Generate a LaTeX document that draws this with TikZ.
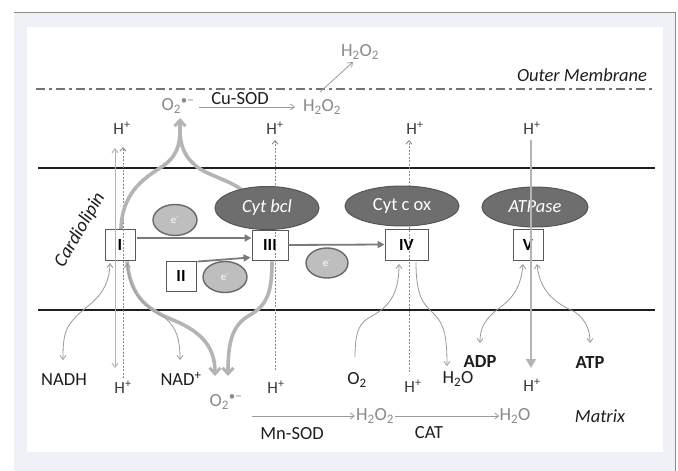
\documentclass[tikz,border=0pt]{standalone}
\usepackage{fontspec}
\setmainfont{Carlito}
\usetikzlibrary{arrows.meta,shapes.geometric}
\definecolor{bgblue}{HTML}{F0F1F7}
\definecolor{framegray}{HTML}{8C8C8C}
\definecolor{darkell}{HTML}{6E6E6E}
\definecolor{darkellb}{HTML}{555555}
\definecolor{eell}{HTML}{BEBEBE}
\definecolor{eellb}{HTML}{686868}
\definecolor{thin}{HTML}{9A9A9A}
\definecolor{bigarr}{HTML}{B4B4B4}
\definecolor{etr}{HTML}{7A7A7A}
\definecolor{ros}{HTML}{8A8A8A}
\definecolor{lbl}{HTML}{1E1E1E}
\definecolor{hpl}{HTML}{3C3C3C}
\tikzset{
  cplx/.style={draw=black!65, line width=0.9pt, minimum height=31pt, inner sep=0pt, font=\fontsize{17}{19}\selectfont\bfseries, text=black},
  bigell/.style={ellipse, draw=darkellb, fill=darkell, line width=1pt, inner sep=0pt, text=white, font=\fontsize{18.5}{20}\selectfont},
  eell/.style={ellipse, draw=eellb, fill=eell, line width=1.4pt, minimum width=44pt, minimum height=31pt, inner sep=0pt, text=white, font=\fontsize{11}{12}\selectfont},
  lab/.style={text=lbl, inner sep=0pt, font=\fontsize{18.5}{20}\selectfont},
  hp/.style={text=hpl, inner sep=0pt, font=\fontsize{17}{19}\selectfont},
  roslab/.style={text=ros, inner sep=0pt, font=\fontsize{18.5}{20}\selectfont},
  thinarr/.style={draw=thin, line width=0.8pt, >={Straight Barb[length=4pt,width=6pt]}},
  bigarrow/.style={draw=bigarr, line width=3.6pt, >={Straight Barb[length=6pt,width=11pt,line width=3pt]}},
  etarr/.style={draw=etr, line width=1.8pt, ->, >={Triangle[length=7pt,width=7pt]}},
  memline/.style={draw=black!88, line width=2.2pt},
  hdot/.style={draw=ros, line width=0.9pt, dash pattern=on 2pt off 1.5pt, ->, >={Straight Barb[length=3.5pt,width=6pt]}},
}
\begin{document}
\begin{tikzpicture}[x=1pt,y=-1pt]
\useasboundingbox (0,0) rectangle (678,471);
\fill[white] (0,0) rectangle (678,471);
% frame
\fill[bgblue] (14,12) rectangle (675,471);
\draw[framegray, line width=1pt] (14,12) -- (675,12) -- (675,471);
\fill[white] (27,27) rectangle (663,452);

% outer membrane
\draw[draw=black!55, line width=2pt, dash pattern=on 9pt off 4pt on 3pt off 4pt] (36,89) -- (653,89);
\node[lab, font=\fontsize{18.5}{20}\selectfont\itshape] (om) at (582,75) {Outer Membrane};
% inner membrane
\draw[memline] (38,168) -- (655,168);
\draw[memline] (38,310) -- (655,310);

\node[lab, font=\fontsize{19}{21}\selectfont\itshape, rotate=60] (card) at (80,230) {Cardiolipin};

% complexes
\node[cplx, minimum width=30pt] (cI) at (120,244.5) {I};
\node[cplx, minimum width=30pt, minimum height=30pt] (cII) at (181,276) {II};
\node[cplx, minimum width=36pt, minimum height=30pt] (cIII) at (270,245) {III};
\node[cplx, minimum width=43pt] (cIV) at (406.5,244.5) {IV};
\node[cplx, minimum width=30pt] (cV) at (528,244.5) {V};

% electrons
\node[eell] (e1) at (175,220) {e\textsuperscript{-}};
\node[eell] (e2) at (225,277) {e\textsuperscript{-}};
\node[eell, minimum width=42pt, minimum height=30pt] (e3) at (327,263) {e\textsuperscript{-}};

% top labels
\node[roslab] (o2top) at (178,106) {O\textsubscript{2}\textsuperscript{•−}};
\node[lab] (cusod) at (240,99) {Cu-SOD};
\node[roslab] (h2o2a) at (322,107) {H\textsubscript{2}O\textsubscript{2}};
\node[roslab] (h2o2b) at (360,52) {H\textsubscript{2}O\textsubscript{2}};
\node[hp] (hI) at (122,128) {H\textsuperscript{+}};
\node[hp] (hIII) at (275,128) {H\textsuperscript{+}};
\node[hp] (hIV) at (415,128) {H\textsuperscript{+}};
\node[hp] (hV) at (532,128) {H\textsuperscript{+}};

% bottom labels
\node[lab] (nadh) at (64,380) {NADH};
\node[hp] (hIb) at (123,387) {H\textsuperscript{+}};
\node[lab] (nad) at (181,379) {NAD\textsuperscript{+}};
\node[roslab] (o2bot) at (226,402) {O\textsubscript{2}\textsuperscript{•−}};
\node[hp] (hIIIb) at (276,387) {H\textsuperscript{+}};
\node[lab] (o2) at (357,380) {O\textsubscript{2}};
\node[hp] (hIVb) at (413,386) {H\textsuperscript{+}};
\node[lab] (h2o) at (458,379) {H\textsubscript{2}O};
\node[lab, font=\fontsize{18.5}{20}\selectfont\bfseries] (adp) at (480,361) {ADP};
\node[hp] (hVb) at (532,385) {H\textsuperscript{+}};
\node[lab, font=\fontsize{18.5}{20}\selectfont\bfseries] (atp) at (590,362) {ATP};
\node[roslab] (h2o2c) at (375,416) {H\textsubscript{2}O\textsubscript{2}};
\node[roslab] (h2oc) at (515,416) {H\textsubscript{2}O};
\node[lab] (mnsod) at (292,434) {Mn-SOD};
\node[lab] (cat) at (429,433) {CAT};
\node[lab, font=\fontsize{18.5}{20}\selectfont\itshape] (matrix) at (600,416) {Matrix};

% ROS reactions
\draw[thinarr, ->] (o2top.east) ++(4,1) coordinate (cs1) -- (295,107) coordinate (cs2);
\draw[thinarr, ->] (320,92) coordinate (h1) -- (353,62) coordinate (h2);
\coordinate (ms1) at (252,416);
\draw[thinarr, ->] (ms1) -- ([xshift=-1pt]h2o2c.west);
\draw[thinarr, ->] ([xshift=1pt]h2o2c.east) -- (h2oc.west);

% proton lines
\coordinate (pIt) at (115,148); \coordinate (pIb) at (115,368);
\draw[thinarr, draw=bigarr, line width=1pt, <->] (pIt) -- (pIb);
\coordinate (dIb) at (123,378); \coordinate (dIt) at (123,147);
\draw[hdot] (dIb) -- (dIt);
\coordinate (dIIIb) at (275,370); \coordinate (dIIIt) at (275,140);
\draw[hdot] (dIIIb) -- (dIIIt);
\coordinate (dIVb) at (409,372); \coordinate (dIVt) at (409,140);
\draw[hdot] (dIVb) -- (dIVt);

% big ROS arrows (upward)
\coordinate (lamtop) at (180,118);
\draw[bigarrow] (121,229) .. controls (122,190) and (148,176) .. (163,166) .. controls (176,157) and (180,146) .. (180,130);
\draw[bigarrow] (247,194) .. controls (232,180) and (208,176) .. (196,166) .. controls (185,157) and (180,146) .. (180,130);
\draw[bigarrow, ->] (180,132) -- (lamtop);
% big ROS arrows (downward)
\draw[bigarrow, ->] (cI.south) ++(7,1) .. controls (131,300) and (150,310) .. (173,320) .. controls (205,333) and (215,350) .. (215,376);
\draw[bigarrow, ->] (cIII.south) ++(2,1) .. controls (272,290) and (268,305) .. (250,315) .. controls (232,325) and (228,342) .. (228,376);

% electron transfer
\coordinate (et1) at (137,238);
\draw[etarr] (et1) -- (cIII.west |- et1);
\draw[etarr] (cII.north east) ++(1,1) -- ([xshift=-1pt,yshift=3pt]cIII.south west);
\draw[etarr] (cIII.east) -- (cIV.west);

% substrate arrows
\draw[thinarr, <->] (110,263) .. controls (109,298) and (85,305) .. (73,320) .. controls (64,330) and (63,340) .. (63,360);
\draw[thinarr, <->] (127,263) .. controls (130,300) and (150,308) .. (165,318) .. controls (177,328) and (180,340) .. (180,360);
\draw[thinarr, <-] (399,264) .. controls (399,290) and (392,305) .. (372,316) .. controls (360,322) and (355,330) .. (355,357);
\draw[thinarr, ->] (416,262) .. controls (416,300) and (425,305) .. (435,315) .. controls (445,325) and (447,340) .. (447,366);
\draw[thinarr, <->] (523,264) .. controls (520,300) and (500,305) .. (490,316) .. controls (482,325) and (480,332) .. (480,343);
\draw[thinarr, <->] (537,264) .. controls (540,295) and (560,305) .. (575,312) .. controls (586,320) and (590,330) .. (590,343);

% enzymes ellipses
\node[bigell, minimum width=104pt, minimum height=43pt] (bcl) at (267,208) {\itshape Cyt bcl};
\node[bigell, minimum width=114pt, minimum height=40pt] (cox) at (402,206) {Cyt c ox};
\node[bigell, minimum width=106pt, minimum height=40pt] (atpase) at (535,207) {\itshape ATPase};

% ATP synthase proton flow
\coordinate (pVt) at (531,140); \coordinate (pVb) at (531,368);
\draw[draw=bigarr, line width=2.6pt, ->, >={Triangle[length=9pt,width=10pt]}] (pVt) -- (pVb);
\end{tikzpicture}
\end{document}
